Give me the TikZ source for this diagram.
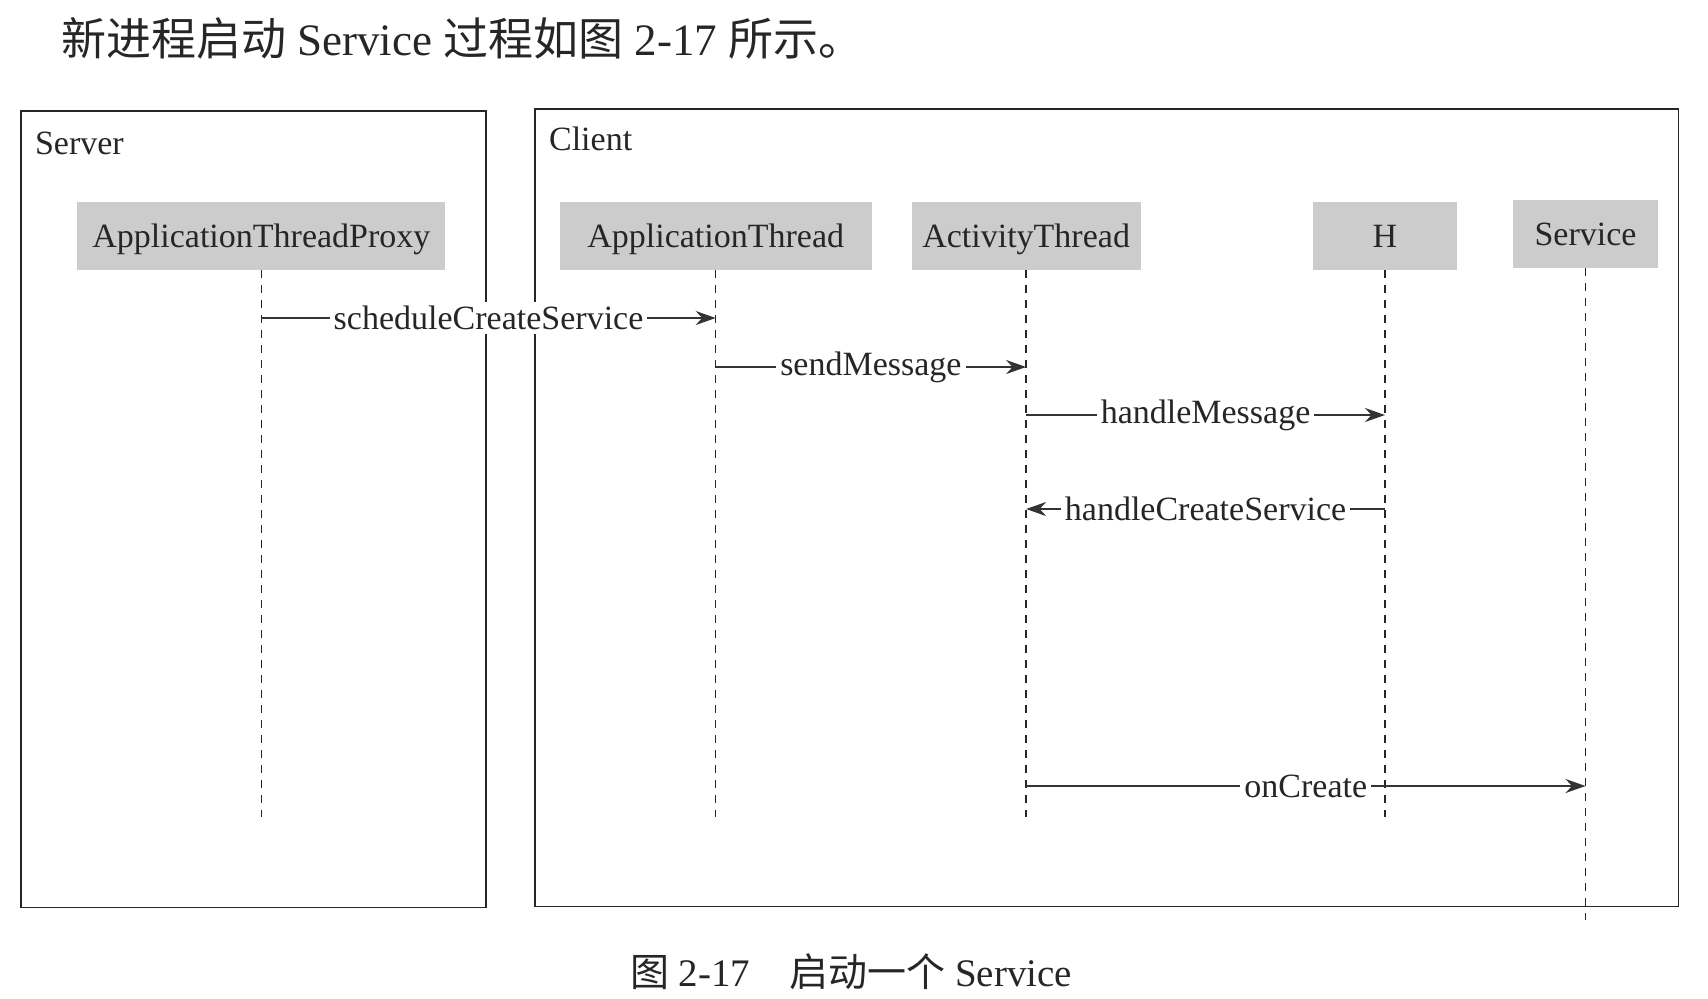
\documentclass[tikz,border=0pt]{standalone}
\usepackage{fontspec}
\setmainfont{Liberation Serif}
\newfontfamily\cjk{Noto Sans CJK SC}
\usetikzlibrary{arrows.meta}
\tikzset{
  actor/.style={fill=gray!40,minimum height=34pt,inner sep=0pt,text height=15pt,text depth=3.4pt,
    text=black!85,font=\fontsize{17}{20}\selectfont},
  frame/.style={draw=black!85,line width=0.8pt},
  lifeline/.style={draw=black!85,line width=0.7pt,dash pattern=on 4pt off 3.5pt},
  msg/.style={->,draw=black!80,line width=1pt},
  lbl/.style={fill=white,inner sep=2pt,text=black!85,font=\fontsize{17}{20}\selectfont},
}
\begin{document}
\begin{tikzpicture}[x=0.5pt,y=-0.5pt,>={Stealth[length=10pt,width=7pt]}]
\useasboundingbox (0,0) rectangle (1708,998);
% heading and caption
\node[anchor=west,text=black!85,font=\fontsize{22.5}{27}\selectfont] (head) at (54,38)
  {{\cjk 新进程启动} Service {\cjk 过程如图} 2-17 {\cjk 所示。}};
\node[text=black!85,font=\fontsize{19.5}{23}\selectfont] (caption) at (851,972)
  {{\cjk 图} 2-17{\cjk 　启动一个} Service};
% frames
\draw[frame] (20.7,111) rectangle (485.8,907.4);
\draw[frame] (534.8,109) rectangle (1678.6,906.3);
\node[anchor=west,text=black!85,font=\fontsize{17}{20}\selectfont] (server) at (28,143) {Server};
\node[anchor=west,text=black!85,font=\fontsize{17}{20}\selectfont] (client) at (542,139) {Client};
% actors
\node[actor,minimum width=184pt] (proxy) at (261.4,235.8) {ApplicationThreadProxy};
\node[actor,minimum width=155.8pt] (appthread) at (715.7,235.8) {ApplicationThread};
\node[actor,minimum width=114.4pt] (actthread) at (1026.1,235.8) {ActivityThread};
\node[actor,minimum width=72.4pt] (h) at (1385,235.8) {H};
\node[actor,minimum width=72.4pt] (service) at (1585.5,234) {Service};
% lifelines
\foreach \who in {proxy,appthread,actthread,h}
  \draw[lifeline] (\who.south) -- (\who.south |- 0,817);
\draw[lifeline] (service.south) -- (service.south |- 0,920);
% message ends
\coordinate (m1a) at (proxy.south |- 0,318);
\coordinate (m1b) at (appthread.south |- 0,318);
\coordinate (m2a) at (appthread.south |- 0,367);
\coordinate (m2b) at (actthread.south |- 0,367);
\coordinate (m3a) at (actthread.south |- 0,415);
\coordinate (m3b) at (h.south |- 0,415);
\coordinate (m4a) at (h.south |- 0,509);
\coordinate (m4b) at (actthread.south |- 0,509);
\coordinate (m5a) at (actthread.south |- 0,786);
\coordinate (m5b) at (service.south |- 0,786);
% messages
\draw[msg] (m1a) -- node[lbl]{scheduleCreateService} (m1b);
\draw[msg] (m2a) -- node[lbl]{sendMessage} (m2b);
\draw[msg] (m3a) -- node[lbl]{handleMessage} (m3b);
\draw[msg] (m4a) -- node[lbl]{handleCreateService} (m4b);
\draw[msg] (m5a) -- node[lbl]{onCreate} (m5b);
\end{tikzpicture}
\end{document}
